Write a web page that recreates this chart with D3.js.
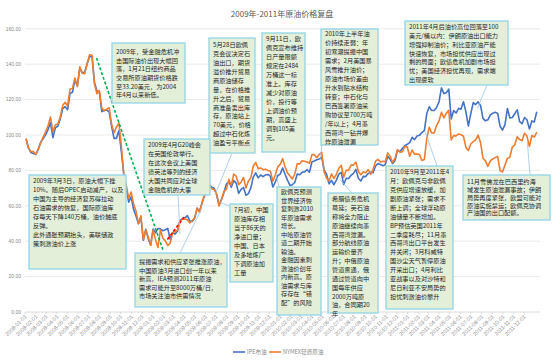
<!DOCTYPE html>
<html><head><meta charset="utf-8">
<script src="https://cdn.jsdelivr.net/npm/d3@7/dist/d3.min.js"></script>
<style>body{margin:0;background:#fff}svg{display:block}</style>
</head><body>
<svg id="c" width="553" height="361"></svg>
<script>
// ---------------- data ----------------
const title = "2009年-2011年原油价格复盘";
const seriesNames = ["IPE布油", "NYMEX轻质原油"];
const firstWeek = "2008-01-04"; // weekly observations (Fridays)
const brent = [
 97.9,92.7,90.1,89.6, 89.0,92.0,96.0,98.0,100.1, 103.0,107.0,98.5,104.0, 105.0,109.0,114.9,116.0,
 114.3,123.5,124.1,131.0,127.8, 137.7,135.2,135.4,140.2, 144.3,144.5,129.7,124.9, 124.3,113.2,113.8,114.1,113.1,
 105.1,98.1,98.1,102.5, 90.6,77.7,70.1,62.05,65.0, 58.0,54.2,49.9,53.5, 40.5,46.8,41.4,37.7,
 46.9,44.7,47.2,47.0,45.9, 46.5,47.2,40.9,44.9, 44.0,45.7,51.6,52.8, 53.2,54.4,51.5,51.1,
 53.0,58.7,56.8,61.4,65.5, 68.0,72.0,70.5,69.9, 66.2,60.4,63.6,67.5,72.3, 73.7,70.5,74.3,72.8,
 67.0,69.3,70.3,65.9, 66.9,70.1,76.2,78.6,75.8, 77.4,76.5,77.5,77.7, 76.7,70.6,73.4,77.0,
 77.9,81.4,77.8,74.5,71.5, 71.9,73.3,78.0,77.5, 79.0,79.1,80.4,79.0, 84.9,85.3,86.0,86.4,87.4,
 80.2,77.9,72.4,74.3, 71.9,74.5,77.9,78.9, 72.0,75.6,75.4,77.2,78.3, 80.6,75.6,74.0,76.6,
 76.5,78.2,79.0,78.7, 82.3,83.9,83.3,82.6,83.2, 88.0,86.3,83.8,85.6, 91.4,90.7,92.3,93.9,94.75,
 95.7,98.7,97.4,99.4, 99.8,101.4,102.5,112.1, 116.0,113.8,113.9,115.6, 118.7,126.6,123.4,123.9,125.9,
 109.1,113.8,112.4,115.1, 114.6,118.8,113.2,105.1, 111.9,118.3,117.2,118.7,116.7, 109.4,108.0,108.6,111.4,
 112.3,112.8,112.2,104.97,102.8, 105.9,115.0,109.6,109.9, 111.97,114.2,107.6,106.4, 109.9,108.6,103.4,107.96,107.4,
 113.1
];
const wti = [
 97.9,92.7,90.6,90.7, 88.96,91.8,95.5,98.8,101.8, 105.2,110.2,101.8,105.6, 106.2,110.1,116.7,118.5,
 116.3,125.96,126.3,132.2,127.35, 138.5,134.9,134.6,140.2, 145.3,145.1,128.9,123.3, 125.1,115.2,113.8,114.6,115.5,
 106.2,101.2,104.5,106.9, 93.9,77.7,71.85,64.15,67.8, 61.0,57.0,49.9,54.4, 40.8,46.3,42.4,37.7,
 46.3,40.8,36.5,46.5,41.7, 40.2,37.5,38.9,44.8, 45.5,46.25,51.1,52.4, 52.5,52.2,50.3,51.6,
 53.2,58.6,56.3,61.7,66.3, 68.4,72.0,69.6,69.2, 66.7,59.9,63.6,68.05,69.45, 74.9,71.5,77.9,76.7,
 72.0,73.3,76.0,70.0, 74.0,75.8,82.5,84.5,81.0, 81.4,80.4,80.7,80.0, 79.5,73.9,77.4,82.0,
 83.4,86.7,82.0,78.5,76.9, 75.2,78.1,83.8,83.7, 85.5,85.2,84.7,84.0, 88.9,88.9,87.2,89.1,90.2,
 79.1,75.6,74.0,78.0, 75.5,77.8,81.2,82.9, 76.1,80.1,80.0,83.0,83.0, 84.7,79.4,77.5,79.2,
 78.6,80.5,77.7,80.5, 85.1,86.2,84.8,85.2,84.9, 89.9,87.9,84.5,86.8, 91.7,90.3,90.5,93.5,93.4,
 88.0,91.5,89.1,89.3, 89.0,85.6,86.2,98.0, 104.4,101.2,101.1,105.4, 107.9,112.8,109.7,112.3,113.9,
 97.2,99.65,99.5,100.6, 100.2,99.3,93.0,91.2, 94.9,96.2,97.2,99.9,95.7, 86.9,85.4,82.3,85.4,
 86.45,87.2,87.95,79.85,79.2, 82.98,86.8,87.4,93.3, 94.3,98.99,97.4,96.8, 100.96,99.4,93.5,99.7,98.8,
 101.6
];
const yTicks = [0, 20, 40, 60, 80, 100, 120, 140, 160];
const xTickFirst = "2008-01-01", xTickLast = "2011-12-01"; // monthly labels
const trendGreen = [["2008-07-24", 143.5], ["2009-02-01", 34]];
const trendRed = [["2009-02-12", 41], ["2009-04-02", 54]];

const notes = [
 ["2009年，受金融危机冲","击国际油价出现大幅回","落，1月21日纽约商品","交易所原油期货价格跌","至33.20美元，为2004","年4月以来新低。"],
 ["5月28日欧佩","克会议决定石","油出口，期货","溢价推升贸易","商原油储存","量，在价格推","升之后，贸易","商准备卖出库","存，原油站上","70美元，价格","超过中石化炼","油盈亏平衡点"],
 ["9月11日，欧","佩克宣布维持","日产量限额","规定在2484","万桶这一标","准上。库存","减少对原油","价，投行等","上调油价预","期，高盛上","调到105美","元。"],
 ["2010年上半年油","价持续走弱：年","初寒潮提振中国","需求；2月美国暴","风雪推升油价；","原油市场价差由","升水到贴水结构","转变；中石化与","巴西签署原油采","购协议至700万吨","/年以上；4月墨","西哥湾一钻井爆","炸原油泄漏"],
 ["2011年4月后油价高位回落至100","美元/桶以内：伊朗原油出口能力","增强抑制油价；利比亚原油产能","快速恢复，市场担忧供应出现过","剩的局面；欧债危机加剧市场担","忧；美国经济担忧再现，需求端","出现疲软"],
 ["2009年3月3日，原油大幅下挫","10%。随后OPEC启动减产，以及","中国为主导的经济复苏得拉动","石油需求的恢复，国际原油库","存每天下降140万桶，油价触底","反弹。","此外通胀预期抬头，美联储政","策刺激油价上涨"],
 ["2009年4月G20峰会","在英国伦敦举行。","在这次会议上美国","德英法等列的经济","大国共同应对全球","金融危机的大事"],
 ["7月初，中国","原油库存相","当于86天的","净进口量；","中国、日本","及多地炼厂","下调原油加","工量"],
 ["提振需求和供应紧张推涨原油，","中国原油3月进口创一年以来","新高，IEA预测2011年原油","需求可能升至8000万桶/日，","市场关注油市供需情况"],
 ["欧佩克预测","世界经济恢","复刺激2010","年原油需求","增长。","中哈原油管","道二期开始","输油。","金融因素刺","激油价创年","内新高。原","油需求与库","存存在“错","配”的风险"],
 ["希腊债务危机","蔓延；英石油","称将全力阻止","原油继续向墨","西哥湾泄漏。","部分航线原油","运输价量齐","升；中俄原油","管道贯通，俄","通过管道向中","国每年供应","2000万吨原","油，合同期20","年"],
 ["2010年9月至2011年4","月：欧佩克与非欧佩","克供应增速放缓，加","剧原油紧张；需求不","断上调；全球浮动原","油储量不断增加。","BP预估英国2011年","二季度耗尽；11月墨","西哥湾出口平台发生","井关闭；3月科威特","国沙尘天气暂停原油","开采出口；4月利比","亚战事以及对沙特和","尼日利亚不安局势的","担忧刺激油价攀升"],
 ["11月雪佛龙在巴西里约海","域发生原油泄漏事故；伊朗","局势再度紧张，欧盟可能对","原油实施禁运；欧佩克协调","产油国的出口配额。"]
];
// connector targets on the price curves (date, value)
const connectorTargets = [
 null, ["2009-06-28", 66], null, ["2010-04-25", 86], ["2011-07-20", 115],
 null, ["2009-03-20", 44], ["2009-07-12", 62], ["2009-05-20", 58],
 ["2009-12-20", 78], ["2010-06-20", 75], ["2011-02-20", 102], ["2011-12-10", 96]
];

// ---------------- layout ----------------
const plot = {left: 25, right: 540, top: 28.8, bottom: 312};
// box geometry: x, y, w, h, first-line offset, line height, connector anchor on box
const boxLayout = [
 [112, 43, 73, 60, 9, 8.6, null],
 [209, 38, 46, 115, 7, 8.9, [232, 153]],
 [262, 33, 43, 119, 6, 9.0, null],
 [321, 29, 57, 116, 5, 9.0, [322, 145]],
 [405, 21, 103, 64, 6, 8.8, [487, 85]],
 [29, 175, 97, 94, 6, 9.0, null],
 [144, 139, 66, 56, 6, 9.0, [178, 195]],
 [230, 204, 43, 78, 6, 9.0, [230, 206]],
 [135, 253, 92, 54, 9, 8.5, [180, 253]],
 [277, 187, 44, 128, 5, 8.5, [279, 187]],
 [328, 193, 50, 120, 6, 8.85, [352, 193]],
 [386, 166, 67, 143, 6, 8.9, [437, 166]],
 [463, 175, 87, 45, 7, 7.8, [530, 175]]
];

const svg = d3.select("#c");
const parse = d3.timeParse("%Y-%m-%d");
const t0 = parse(firstWeek);
const dates = brent.map((_, i) => d3.timeDay.offset(t0, 7 * i));

const x = d3.scaleTime().domain([parse("2008-01-01"), parse("2012-01-01")]).range([25, 535]);
const y = d3.scaleLinear().domain([0, 160]).range([plot.bottom, plot.top]);

// title
svg.append("text").attr("x", 282).attr("y", 17).attr("text-anchor", "middle")
  .attr("font-family", "'Noto Sans CJK SC', sans-serif").attr("font-size", 8)
  .attr("fill", "#595959").text(title);

// grid + y labels
const gy = svg.append("g");
yTicks.forEach(v => {
  gy.append("line").attr("x1", plot.left).attr("x2", plot.right)
    .attr("y1", y(v)).attr("y2", y(v))
    .attr("stroke", v === 0 ? "#d0d0d0" : "#e4e4e4").attr("stroke-width", 0.8);
  gy.append("text").attr("x", 21).attr("y", y(v) + 1.8).attr("text-anchor", "end")
    .attr("font-family", "Arial, 'Liberation Sans', sans-serif").attr("font-size", 5)
    .attr("fill", "#8a8a8a").text(d3.format(".2f")(v));
});

// x ticks (monthly)
const months = d3.timeMonth.range(parse(xTickFirst), d3.timeMonth.offset(parse(xTickLast), 1));
const fmt = d3.timeFormat("%Y-%m-%d");
const gx = svg.append("g");
months.forEach(m => {
  const px = x(m);
  gx.append("line").attr("x1", px).attr("x2", px).attr("y1", plot.bottom).attr("y2", plot.bottom + 2)
    .attr("stroke", "#d0d0d0").attr("stroke-width", 0.8);
  gx.append("text").attr("transform", `translate(${px + 2},${plot.bottom + 5}) rotate(-45)`)
    .attr("text-anchor", "end").attr("font-family", "Arial, 'Liberation Sans', sans-serif")
    .attr("font-size", 5.4).attr("fill", "#8a8a8a").text(fmt(m));
});

// series (blue first, orange drawn over it)
const line = d3.line().x((d, i) => x(dates[i])).y(d => y(d));
svg.append("path").datum(brent).attr("d", line).attr("fill", "none")
  .attr("stroke", "#4472c4").attr("stroke-width", 1.6).attr("stroke-linejoin", "round");
svg.append("path").datum(wti).attr("d", line).attr("fill", "none")
  .attr("stroke", "#ed7d31").attr("stroke-width", 1.6).attr("stroke-linejoin", "round");

// trend lines
const tl = d3.line().x(d => x(parse(d[0]))).y(d => y(d[1]));
svg.append("path").datum(trendGreen).attr("d", tl).attr("stroke", "#00b050")
  .attr("stroke-width", 1.6).attr("stroke-dasharray", "3,2").attr("fill", "none");
svg.append("path").datum(trendRed).attr("d", tl).attr("stroke", "#ff0000")
  .attr("stroke-width", 1.6).attr("stroke-dasharray", "3,2").attr("fill", "none");

// connectors
boxLayout.forEach((b, i) => {
  const tgt = connectorTargets[i];
  if (!tgt || !b[6]) return;
  svg.append("line").attr("x1", b[6][0]).attr("y1", b[6][1])
    .attr("x2", x(parse(tgt[0]))).attr("y2", y(tgt[1]))
    .attr("stroke", "#9dc3e6").attr("stroke-width", 0.8);
});

// callout boxes
notes.forEach((lines, i) => {
  const [bx, by, bw, bh, off, lh] = boxLayout[i];
  const g = svg.append("g");
  g.append("rect").attr("x", bx).attr("y", by).attr("width", bw).attr("height", bh)
    .attr("fill", "#e3efd9").attr("stroke", "#92d5e6").attr("stroke-width", 1.3);
  lines.forEach((s, k) => {
    g.append("text").attr("x", bx + 4).attr("y", by + off + k * lh + 2.2)
      .attr("font-family", "'Noto Sans CJK SC', sans-serif").attr("font-size", 6.2)
      .attr("fill", "#262626").text(s);
  });
});

// legend
const lg = svg.append("g");
[["#4472c4", 233, seriesNames[0]], ["#ed7d31", 269, seriesNames[1]]].forEach(([c, lx, name]) => {
  lg.append("line").attr("x1", lx).attr("x2", lx + 12).attr("y1", 352).attr("y2", 352)
    .attr("stroke", c).attr("stroke-width", 1.6);
  lg.append("text").attr("x", lx + 14).attr("y", 354).attr("font-family", "'Noto Sans CJK SC', sans-serif")
    .attr("font-size", 5.6).attr("fill", "#8a8a8a").text(name);
});
</script>
</body></html>
